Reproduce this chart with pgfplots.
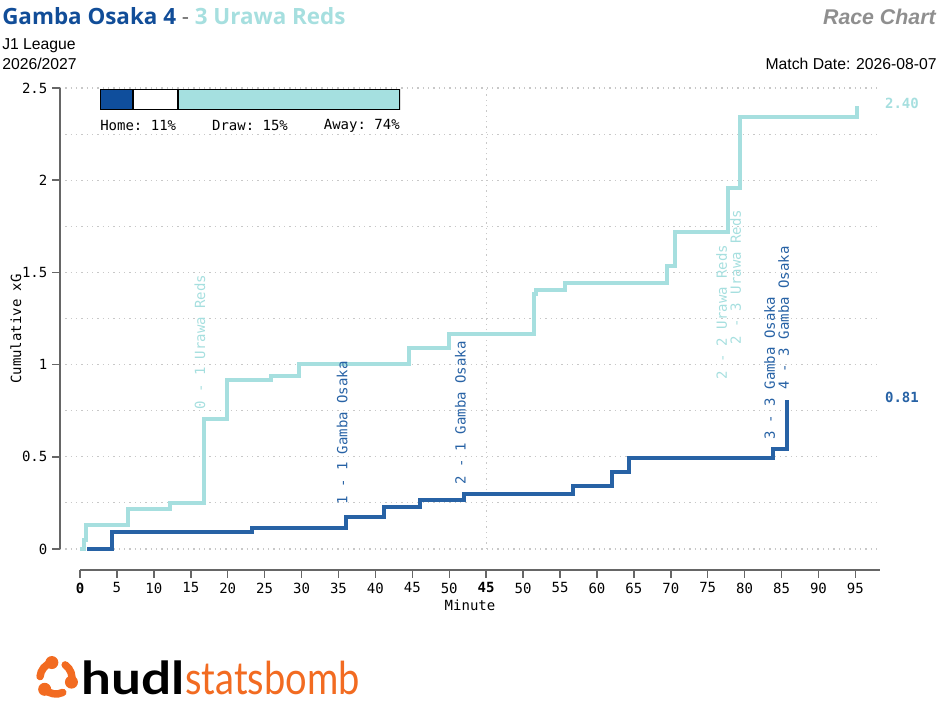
\documentclass[border=0pt]{standalone}
\usepackage{fontspec}
\setmainfont{Liberation Sans}
\setmonofont{DejaVu Sans Mono}
\newfontfamily\titlefont{Open Sans}
\newfontfamily\logofont{Lato}
\usepackage{pgfplots}
\pgfplotsset{compat=1.18}
\definecolor{gambatitle}{RGB}{17,77,152}
\definecolor{gambaline}{RGB}{39,98,165}
\definecolor{urawa}{RGB}{166,223,223}
\definecolor{homeblue}{RGB}{15,78,156}
\definecolor{awayteal}{RGB}{165,224,224}
\definecolor{axisgray}{RGB}{102,102,102}
\definecolor{gridgray}{RGB}{200,200,200}
\definecolor{racegray}{RGB}{143,143,143}
\definecolor{sborange}{RGB}{242,107,33}
\newcommand{\mono}{\ttfamily\fontsize{10.5}{12}\selectfont}
\begin{document}
\begin{tikzpicture}
\path[use as bounding box] (0pt,0pt) rectangle (705pt,540pt);
\begin{scope}[x=0.75pt,y=0.75pt]
% titles
\node[anchor=base west, inner sep=0, font=\titlefont\bfseries\fontsize{16.8}{20}\selectfont] at (2,695)
  {\textcolor{gambatitle}{Gamba Osaka 4} {\mdseries\color{axisgray}-} \textcolor{urawa}{3 Urawa Reds}};
\node[anchor=base west, inner sep=0, font=\fontsize{11.8}{14}\selectfont] at (2,670) {J1 League};
\node[anchor=base west, inner sep=0, font=\fontsize{11.8}{14}\selectfont] at (2,650) {2026/2027};
\node[anchor=base east, inner sep=0, font=\fontsize{11.8}{14}\selectfont] at (937,650) {Match Date: 2026-08-07};
\node[anchor=base east, inner sep=0, text=racegray, font=\bfseries\itshape\fontsize{16}{19}\selectfont] at (936,695) {Race Chart};
\node[anchor=west, inner sep=0, font=\mono] at (100,594.3) {Home: 11\%};
\node[inner sep=0, font=\mono] at (250,594.3) {Draw: 15\%};
\node[anchor=east, inner sep=0, font=\mono] at (400,594.3) {Away: 74\%};
% logo
\begin{scope}[shift={(56,42)}]
  \foreach \a in {90,210,330} {
    \draw[sborange, line width=5.6pt, line cap=round] (\a+15:16) arc[start angle=\a+15, end angle=\a+85, radius=16];
    \fill[sborange] (\a+15:16) circle (6.5);
  }
\end{scope}
\node[anchor=base west, inner sep=0, font=\logofont\bfseries\fontsize{34}{40}\selectfont, xscale=1.17] at (81,25) {hudl};
\node[anchor=base west, inner sep=0, text=sborange, font=\logofont\fontsize{34}{40}\selectfont, xscale=0.84] at (185,25) {statsbomb};
\end{scope}

\begin{axis}[
  at={(45pt,112.5pt)}, anchor=south west, scale only axis,
  width=615pt, height=361.5pt,
  xmin=-2.708, xmax=108.33, ymin=-0.114, ymax=2.5,
  axis x line*=bottom, axis y line*=left,
  axis line style={draw=none},
  xtick={0,5,...,105},
  xticklabels={\textbf{0},5,10,15,20,25,30,35,40,45,50,\textbf{45},50,55,60,65,70,75,80,85,90,95},
  ytick={0,0.5,1,1.5,2,2.5},
  yticklabels={0,0.5,1,1.5,2,2.5},
  minor ytick={0.25,0.75,1.25,1.75,2.25},
  ymajorgrids, yminorgrids,
  major grid style={gridgray, dash pattern=on 1pt off 3pt, line width=0.8pt},
  minor grid style={gridgray, dash pattern=on 1pt off 3pt, line width=0.8pt},
  minor tick length=0pt, major tick length=6pt,
  tick align=outside,
  tick style={axisgray, line width=1.1pt},
  tick label style={font=\mono, text=black},
  xlabel={Minute}, ylabel={Cumulative xG},
  xlabel style={font=\mono, at={(rel axis cs:0.5,-0.0726)}, anchor=center},
  ylabel style={font=\mono, at={(rel axis cs:-0.0537,0.5)}, anchor=center},
  clip=false,
]
\draw[gridgray, dash pattern=on 1pt off 3pt, line width=0.8pt] (axis cs:55,0) -- (axis cs:55,2.5);
\draw[axisgray, line width=1.1pt] (axis cs:0,-0.114) -- (axis cs:108.33,-0.114);
\draw[axisgray, line width=1.1pt] (axis cs:-2.708,0) -- (axis cs:-2.708,2.5);

\addplot[const plot, urawa, line width=3pt] coordinates {
 (0,0) (0.5,0.05) (0.8,0.13) (6.45,0.216) (12.2,0.249) (16.8,0.703) (19.9,0.915)
 (25.8,0.94) (29.6,1.004) (44.5,1.09) (50.0,1.165) (61.5,1.385) (61.8,1.404)
 (65.7,1.44) (79.5,1.532) (80.6,1.72) (87.8,1.96) (89.4,2.34) (105.2,2.40)};
\addplot[const plot, gambaline, line width=3pt] coordinates {
 (1,0) (4.28,0.094) (23.3,0.112) (36.0,0.175) (41.2,0.229) (46.1,0.268) (52.0,0.30)
 (66.7,0.344) (72.0,0.42) (74.3,0.492) (93.9,0.542) (95.8,0.81)};

\node[rotate=90, anchor=west, inner sep=0, text=urawa, font=\mono] at (axis cs:16.25,0.754) {0 - 1 Urawa Reds};
\node[rotate=90, anchor=west, inner sep=0, text=gambaline, font=\mono] at (axis cs:35.5,0.239) {1 - 1 Gamba Osaka};
\node[rotate=90, anchor=west, inner sep=0, text=gambaline, font=\mono] at (axis cs:51.5,0.347) {2 - 1 Gamba Osaka};
\node[rotate=90, anchor=west, inner sep=0, text=urawa, font=\mono] at (axis cs:86.9,0.916) {2 - 2 Urawa Reds};
\node[rotate=90, anchor=west, inner sep=0, text=urawa, font=\mono] at (axis cs:88.8,1.106) {2 - 3 Urawa Reds};
\node[rotate=90, anchor=west, inner sep=0, text=gambaline, font=\mono] at (axis cs:93.4,0.59) {3 - 3 Gamba Osaka};
\node[rotate=90, anchor=west, inner sep=0, text=gambaline, font=\mono] at (axis cs:95.3,0.862) {4 - 3 Gamba Osaka};

\node[text=urawa, font=\mono\bfseries] at (axis cs:111.3,2.418) {2.40};
\node[text=gambaline, font=\mono\bfseries] at (axis cs:111.3,0.824) {0.81};
\end{axis}

% probability bar
\begin{axis}[
  at={(75pt,457.5pt)}, anchor=south west, scale only axis,
  width=225pt, height=15.5pt,
  xbar stacked, xmin=0, xmax=100, ymin=-0.5, ymax=0.5,
  hide axis, bar width=15.5pt,
]
\addplot[fill=homeblue, draw=black, line width=0.8pt] coordinates {(11,0)};
\addplot[fill=white, draw=black, line width=0.8pt] coordinates {(15,0)};
\addplot[fill=awayteal, draw=black, line width=0.8pt] coordinates {(74,0)};
\end{axis}
\end{tikzpicture}
\end{document}
